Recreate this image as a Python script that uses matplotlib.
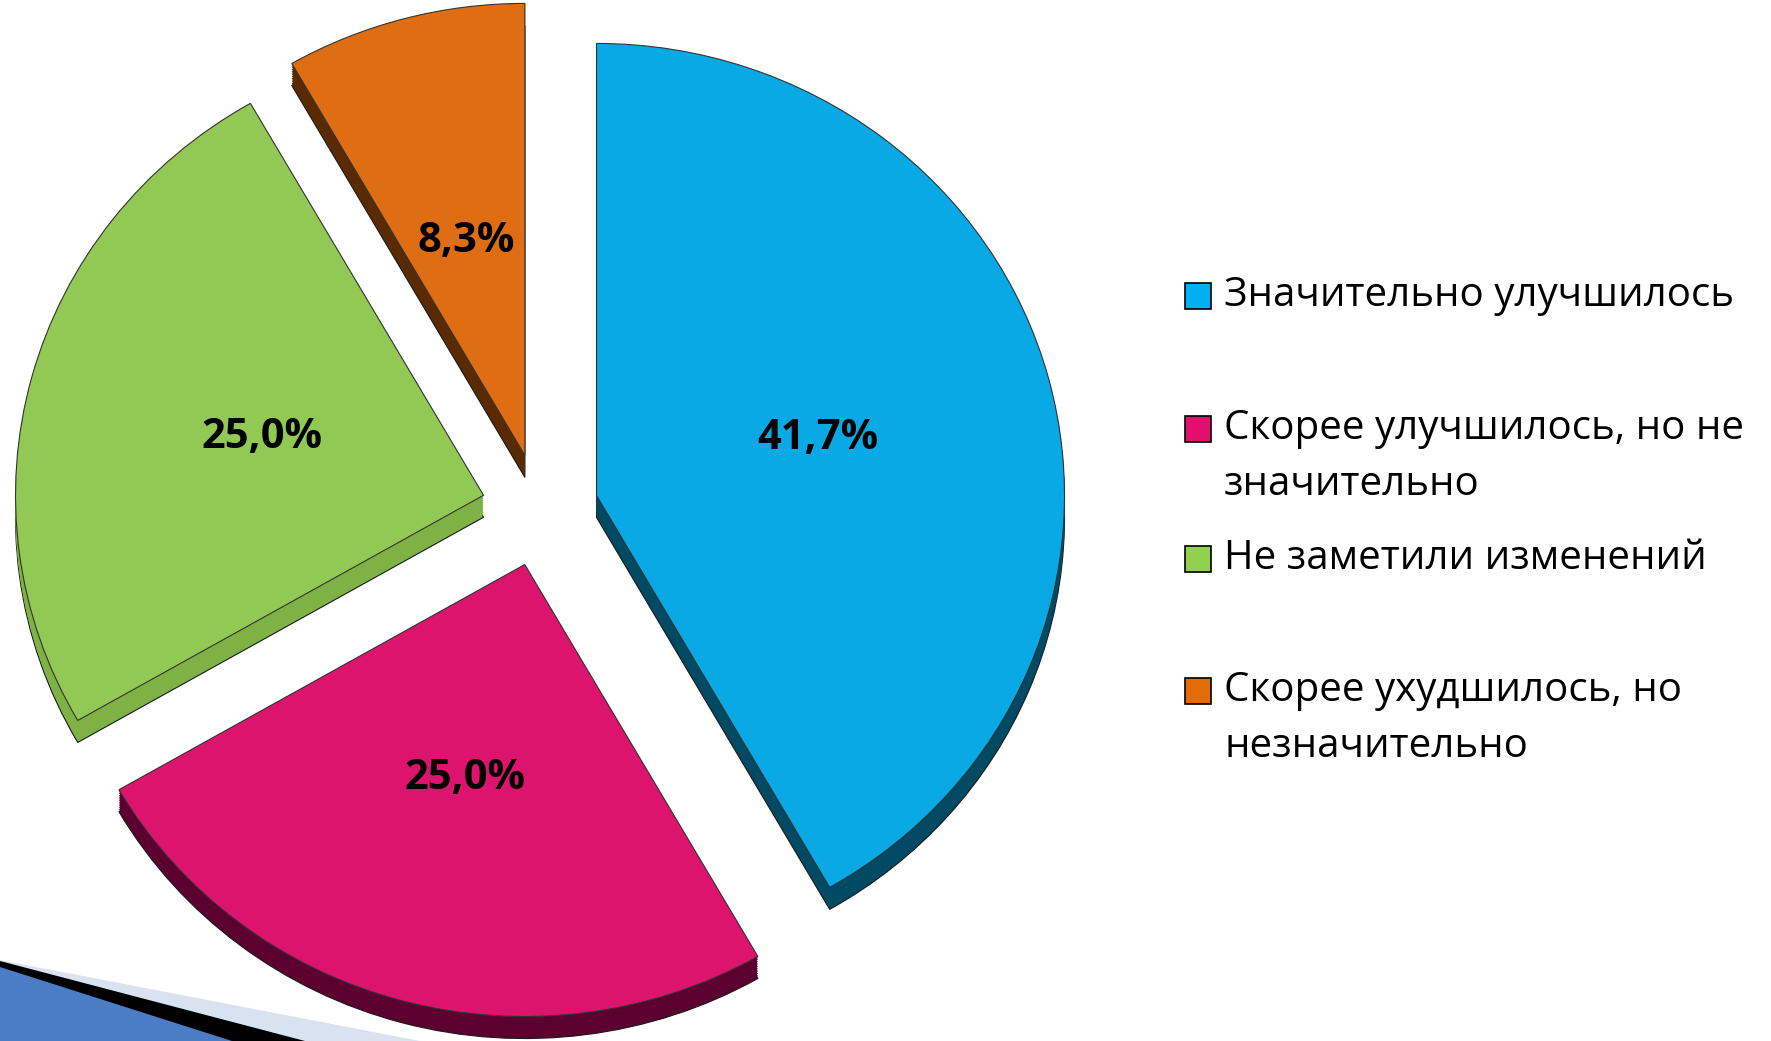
import numpy as np
import matplotlib
matplotlib.use("Agg")
import matplotlib.pyplot as plt
from matplotlib.patches import Rectangle, Polygon

plt.rcParams['font.family'] = ['Open Sans', 'DejaVu Sans']

# data
categories = ["Значительно улучшилось",
              "Скорее улучшилось, но не\nзначительно",
              "Не заметили изменений",
              "Скорее ухудшилось, но\nнезначительно"]
values = [41.7, 25.0, 25.0, 8.3]

top_colors = ["#08A9E5", "#DC146E", "#92C955", "#DE6D14"]
side_colors = ["#004A64", "#5C0030", "#7FB245", "#5A2B02"]
legend_colors = ["#00B0F0", "#E0106C", "#92D050", "#E36C09"]

W, H = 1771, 1041
fig = plt.figure(figsize=(W / 100, H / 100), dpi=100)
fig.patch.set_facecolor("white")
ax = fig.add_axes([0, 0, 1, 1])

def fx(x):
    return x / W

def fy(y):
    return 1 - y / H

# bottom-left decoration
deco_light = Polygon([(fx(0), fy(960)), (fx(420), fy(1041)), (fx(0), fy(1041))],
                     closed=True, transform=fig.transFigure, facecolor="#D9E2F1",
                     edgecolor="none", zorder=0)
deco_black = Polygon([(fx(0), fy(961)), (fx(305), fy(1041)), (fx(0), fy(1041))],
                     closed=True, transform=fig.transFigure, facecolor="black",
                     edgecolor="none", zorder=0)
deco_blue = Polygon([(fx(0), fy(967)), (fx(232), fy(1041)), (fx(0), fy(1041))],
                    closed=True, transform=fig.transFigure, facecolor="#4B7DC6",
                    edgecolor="none", zorder=0)
for p in (deco_light, deco_black, deco_blue):
    fig.patches.append(p)

explode = [0.125] * 4
rx, ry = 468, 452
cx, cy = 540, 510
depth = 22 / ry

# side faces (stacked layers)
for k, off in enumerate(np.linspace(depth, 0.002, 10)):
    ax.pie(values, colors=side_colors, startangle=90, counterclock=False,
           explode=explode, center=(0, -off),
           wedgeprops=dict(edgecolor="#1a1a1a" if k == 0 else "none",
                           linewidth=0.8))

# top faces
def fmt(p):
    return f"{p:.1f}%".replace(".", ",")

ax.pie(values, colors=top_colors, startangle=90, counterclock=False,
       explode=explode, center=(0, 0), autopct=fmt, pctdistance=0.49,
       wedgeprops=dict(edgecolor="#333333", linewidth=0.8),
       textprops=dict(fontsize=30, fontweight="bold", color="black"))

ax.set_aspect("auto")
ax.set_xlim(-cx / rx, (W - cx) / rx)
ax.set_ylim(-(H - cy) / ry, cy / ry)
ax.axis("off")

# legend drawn by hand so entries sit on even rows
row_y = [296, 429, 559, 691]
line_h = 56
for lab, col, y in zip(categories, legend_colors, row_y):
    fig.patches.append(Rectangle((fx(1185), fy(y + 13)), 26 / W, 26 / H,
                                 transform=fig.transFigure, facecolor=col,
                                 edgecolor="black", linewidth=1.2))
    for i, line in enumerate(lab.split("\n")):
        fig.text(fx(1224), fy(y + i * line_h), line, fontsize=29,
                 va="center", ha="left", color="black")

fig.savefig("out.png", dpi=100)
